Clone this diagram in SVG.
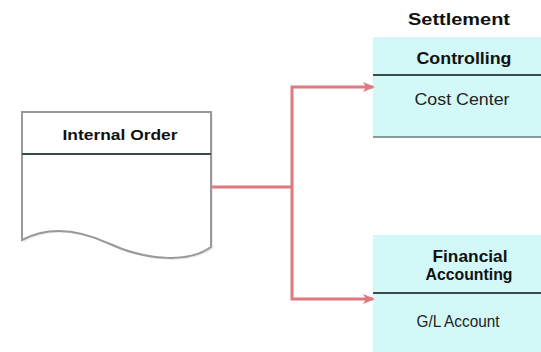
<svg xmlns="http://www.w3.org/2000/svg" width="541" height="352" viewBox="0 0 541 352">
<style>
.b{font-family:"Liberation Sans",Arial,sans-serif;font-weight:bold;font-size:16.5px;fill:#111;text-anchor:middle}
.r{font-family:"Liberation Sans",Arial,sans-serif;font-size:16.5px;fill:#222;text-anchor:middle}
.box{fill:#d2f8f8;stroke:none}
.hl{stroke:#3a4a4a;stroke-width:2}
.conn{fill:none;stroke:#e07880;stroke-width:3}
</style>
<defs>
<marker id="ah" markerWidth="12" markerHeight="10" refX="10" refY="5" orient="auto" markerUnits="userSpaceOnUse" viewBox="0 0 12 10">
<path d="M0,0 L12,5 L0,10 L3,5 Z" fill="#e07880"/>
</marker>
</defs>
<rect width="541" height="352" fill="#fff"/>
<text class="b" x="459" y="25" textLength="102" lengthAdjust="spacingAndGlyphs">Settlement</text>
<g id="internal-order">
<path d="M24,114 H213 V249 C192,264 152,264 112,246 C82,232 52,227 24,242 Z" fill="#ddd" stroke="none" opacity="0.6"/>
<path d="M22,112 H211 V247 C190,262 150,262 110,244 C80,230 50,225 22,240 Z" fill="#fff" stroke="#999" stroke-width="2"/>
<line x1="22" y1="154" x2="211" y2="154" class="hl"/>
<text class="b" x="120" y="140" textLength="115" lengthAdjust="spacingAndGlyphs" style="font-size:15.5px">Internal Order</text>
</g>
<g id="controlling">
<rect class="box" x="373" y="37" width="168" height="100"/>
<line x1="373" y1="75" x2="541" y2="75" class="hl"/>
<line x1="373" y1="137" x2="541" y2="137" stroke="#6a7a7a" stroke-width="1.5"/>
<text class="b" x="464" y="64" textLength="95" lengthAdjust="spacingAndGlyphs">Controlling</text>
<text class="r" x="462" y="105" textLength="95" lengthAdjust="spacingAndGlyphs">Cost Center</text>
</g>
<g id="financial-accounting">
<rect class="box" x="373" y="235" width="168" height="117"/>
<line x1="373" y1="293" x2="541" y2="293" class="hl"/>
<text class="b" x="470" y="262" textLength="75" lengthAdjust="spacingAndGlyphs">Financial</text>
<text class="b" x="469" y="280" textLength="87" lengthAdjust="spacingAndGlyphs">Accounting</text>
<text class="r" x="458" y="327" textLength="83" lengthAdjust="spacingAndGlyphs">G/L Account</text>
</g>
<g id="connectors">
<path class="conn" d="M212,187 H292"/>
<path class="conn" d="M292,187 V87 H373" marker-end="url(#ah)"/>
<path class="conn" d="M292,187 V299 H373" marker-end="url(#ah)"/>
</g>
</svg>
